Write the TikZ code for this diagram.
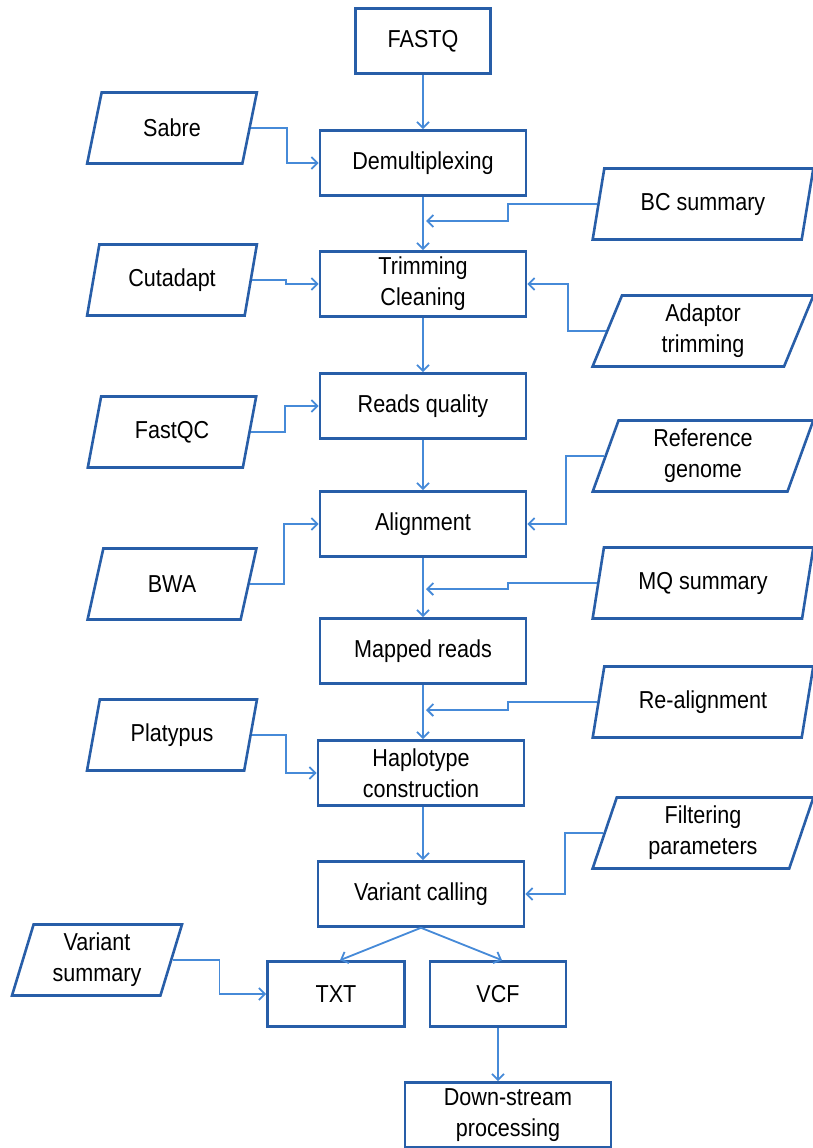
\documentclass[tikz,border=0pt]{standalone}
\usepackage{fontspec}
\setmainfont{Liberation Sans}[FakeStretch=0.88]
\usetikzlibrary{shapes.geometric,arrows.meta}
\definecolor{boxblue}{RGB}{40,94,168}
\definecolor{linkblue}{RGB}{70,138,216}

\begin{document}
\begin{tikzpicture}[x=1pt,y=-1pt,
  stage/.style={draw=boxblue,line width=2.6pt,minimum width=206pt,minimum height=65pt,
    align=center,font=\fontsize{24.5}{31}\selectfont},
  datain/.style={trapezium,trapezium left angle=75,trapezium right angle=105,
    trapezium stretches=true,draw=boxblue,line width=2.6pt,minimum width=170pt,
    minimum height=71pt,align=center,font=\fontsize{24.5}{31}\selectfont},
  dataout/.style={datain,minimum width=221pt},
  link/.style={draw=linkblue,line width=1.8pt,-{Straight Barb[length=6pt,width=12pt]}}]
\useasboundingbox (0,0) rectangle (812,1148);

% main pipeline
\node[stage,minimum width=135pt] (fastq) at (423,41) {FASTQ};
\node[stage] (demux) at (423,163) {Demultiplexing};
\node[stage] (trim) at (423,284) {Trimming\\Cleaning};
\node[stage] (qual) at (423,406) {Reads quality};
\node[stage] (align) at (423,524) {Alignment};
\node[stage] (mapped) at (423,651) {Mapped reads};
\node[stage] (haplo) at (421,773) {Haplotype\\construction};
\node[stage] (call) at (421,894) {Variant calling};
\node[stage,minimum width=137pt] (txt) at (336,994) {TXT};
\node[stage,minimum width=136pt] (vcf) at (498,994) {VCF};
\node[stage] (down) at (508,1115) {Down-stream\\processing};

% tools on the left
\node[datain] (sabre) at (172,128) {Sabre};
\node[datain] (cutadapt) at (172,280) {Cutadapt};
\node[datain] (fastqc) at (172,432) {FastQC};
\node[datain] (bwa) at (172,584) {BWA};
\node[datain] (platypus) at (172,735) {Platypus};
\node[datain] (vsum) at (97,960) {Variant\\summary};

% inputs and reports on the right
\node[dataout] (bcsum) at (703,204) {BC summary};
\node[dataout] (adaptor) at (703,331) {Adaptor\\trimming};
\node[dataout] (refgen) at (703,456) {Reference\\genome};
\node[dataout] (mqsum) at (703,583) {MQ summary};
\node[dataout] (realign) at (703,702) {Re-alignment};
\node[dataout] (filter) at (703,833) {Filtering\\parameters};

\coordinate (bcjoin) at (426,221);
\coordinate (mqjoin) at (426,589);
\coordinate (rajoin) at (426,710);

\draw[link] (fastq.south) -- (fastq.south |- demux.north);
\draw[link] (demux.south) -- (trim.north);
\draw[link] (trim.south) -- (qual.north);
\draw[link] (qual.south) -- (align.north);
\draw[link] (align.south) -- (mapped.north);
\draw[link] (mapped.south) -- (mapped.south |- haplo.north);
\draw[link] ([xshift=2pt]haplo.south) -- ([xshift=2pt]call.north);
\draw[link] (call.south) -- ([xshift=4pt]txt.north);
\draw[link] (call.south) -- ([xshift=4pt]vcf.north);
\draw[link] (vcf.south) -- (vcf.south |- down.north);

\draw[link] (sabre.east) -- ++(36,0) |- (demux.west);
\draw[link] (cutadapt.east) -- ++(34,0) |- (trim.west);
\draw[link] (fastqc.east) -- ++(34,0) |- (qual.west);
\draw[link] (bwa.east) -- ++(34,0) |- (align.west);
\draw[link] (platypus.east) -- ++(34,0) |- (haplo.west);
\draw[link] (vsum.east) -- ++(47,0) |- (txt.west);

\draw[link] (bcsum.west) -- ++(-89,0) |- (bcjoin);
\draw[link] (adaptor.west) -- ++(-38,0) |- (trim.east);
\draw[link] (refgen.west) -- ++(-38,0) |- (align.east);
\draw[link] (mqsum.west) -- ++(-89,0) |- (mqjoin);
\draw[link] (realign.west) -- ++(-89,0) |- (rajoin);
\draw[link] (filter.west) -- ++(-38,0) |- (call.east);
\end{tikzpicture}
\end{document}
